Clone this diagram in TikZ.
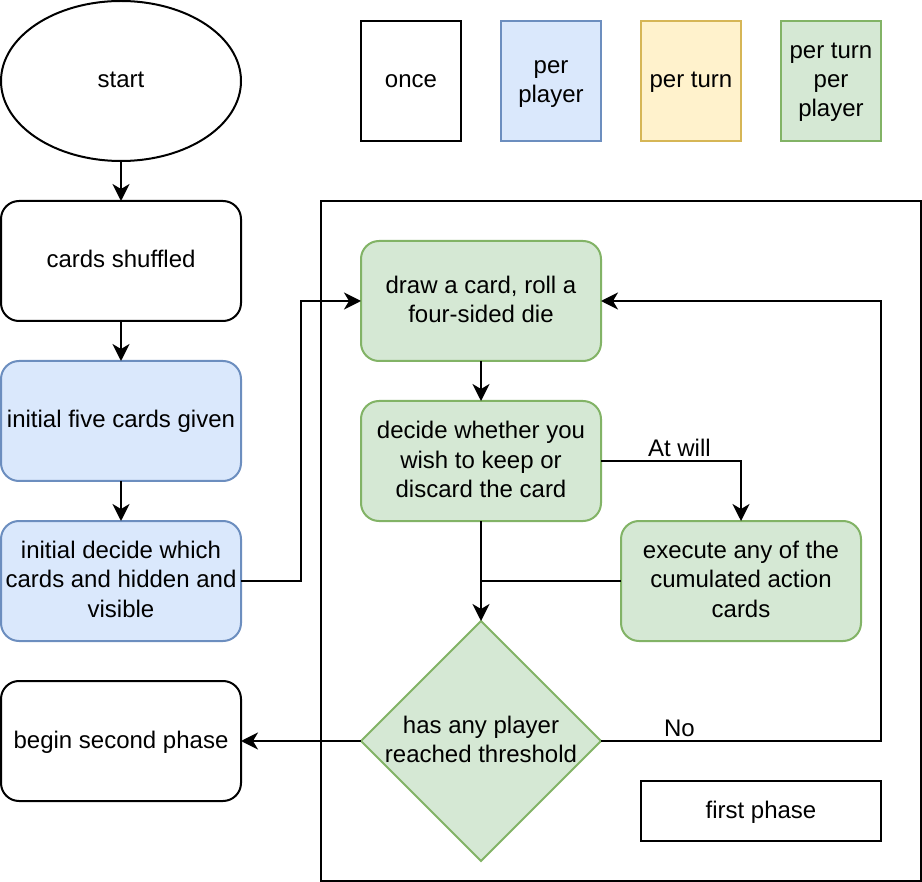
\documentclass[tikz,border=0pt]{standalone}
\usepackage{fontspec}
\setmainfont{Liberation Sans}
\usepackage{tikz}
\usetikzlibrary{shapes.geometric}
\usetikzlibrary{arrows.meta}
\definecolor{greenfill}{HTML}{D5E8D4}
\definecolor{greenline}{HTML}{82B366}
\definecolor{bluefill}{HTML}{DAE8FC}
\definecolor{blueline}{HTML}{6C8EBF}
\definecolor{yellowfill}{HTML}{FFF2CC}
\definecolor{yellowline}{HTML}{D6B656}
\newcommand\topstrut{\rule{0pt}{10.75pt}}
\newcommand\botstrut{\rule[-3.75pt]{0pt}{3.75pt}}

\begin{document}
\begin{tikzpicture}[x=0.5pt,y=-0.5pt,
		font=\fontsize{12}{14.5}\selectfont,
		every node/.style={align=center,inner sep=0pt,outer sep=0pt},
		txt/.style={execute at begin node=\topstrut,execute at end node=\botstrut},
		box/.style={draw,txt,line width=1pt,rounded corners=9pt,minimum width=120pt,minimum height=60pt},
		legendbox/.style={draw,txt,line width=1pt,minimum width=50pt,minimum height=60pt},
		player/.style={fill=bluefill,draw=blueline},
		turn/.style={fill=yellowfill,draw=yellowline},
		turnplayer/.style={fill=greenfill,draw=greenline},
		arrow/.style={line width=1pt,-{Stealth[length=8.5pt,width=8.5pt,inset=2.5pt]}}]
				\useasboundingbox (0,0) rectangle (922,882);

				% legend
				\node[legendbox] (once) at (411,81) {once};
				\node[legendbox,player] (perplayer) at (551,81) {\topstrut per\\player};
				\node[legendbox,turn] (perturn) at (691,81) {per turn};
				\node[legendbox,turnplayer] (perturnplayer) at (831,81) {\topstrut per turn\\per\\player};

				% left column
				\node[draw,txt,line width=1pt,ellipse,minimum width=120pt,minimum height=80pt] (start) at (121,81) {start};
				\node[box] (shuffled) at (121,261) {cards shuffled};
				\node[box,player] (five) at (121,421) {initial five cards given};
				\node[box,player] (hidden) at (121,581) {\topstrut initial decide which\\cards and hidden and\\visible};
				\node[box] (second) at (121,741) {begin second phase};

				% first phase
				\draw[line width=1pt] (321,201) rectangle (921,881);
				\node[box,turnplayer] (drawcard) at (481,301) {\topstrut draw a card, roll a\\four-sided die};
				\node[box,turnplayer] (decide) at (481,461) {\topstrut decide whether you\\wish to keep or\\discard the card};
				\node[box,turnplayer] (execute) at (741,581) {\topstrut execute any of the\\cumulated action\\cards};
				\node[draw,line width=1pt,diamond,fill=greenfill,draw=greenline,minimum width=120pt,minimum height=120pt,
					label={[align=center,txt]center:\topstrut has any player\\reached threshold}] (reach) at (481,741) {};
				\node[draw,txt,line width=1pt,minimum width=120pt,minimum height=30pt] (phase) at (761,811) {first phase};
				\coordinate (join) at (decide.south |- execute.west);

				\draw[arrow] (start) -- (shuffled);
				\draw[arrow] (shuffled) -- (five);
				\draw[arrow] (five) -- (hidden);
				\draw[arrow] (hidden.east) -- ++(60,0) |- (drawcard.west);
				\draw[arrow] (drawcard) -- (decide);
				\draw[arrow] (decide) -- (reach);
				\draw[arrow] (decide.east) -| node[pos=0.28,anchor=south,inner sep=2pt]{At will} (execute.north);
				\draw[line width=1pt] (execute.west) -- (join);
				\draw[arrow] (reach.east) -- node[pos=0.28,anchor=south,inner sep=2pt]{No} ++(280,0) |- (drawcard.east);
				\draw[arrow] (reach.west) -- (second.east);
			\end{tikzpicture}
\end{document}
